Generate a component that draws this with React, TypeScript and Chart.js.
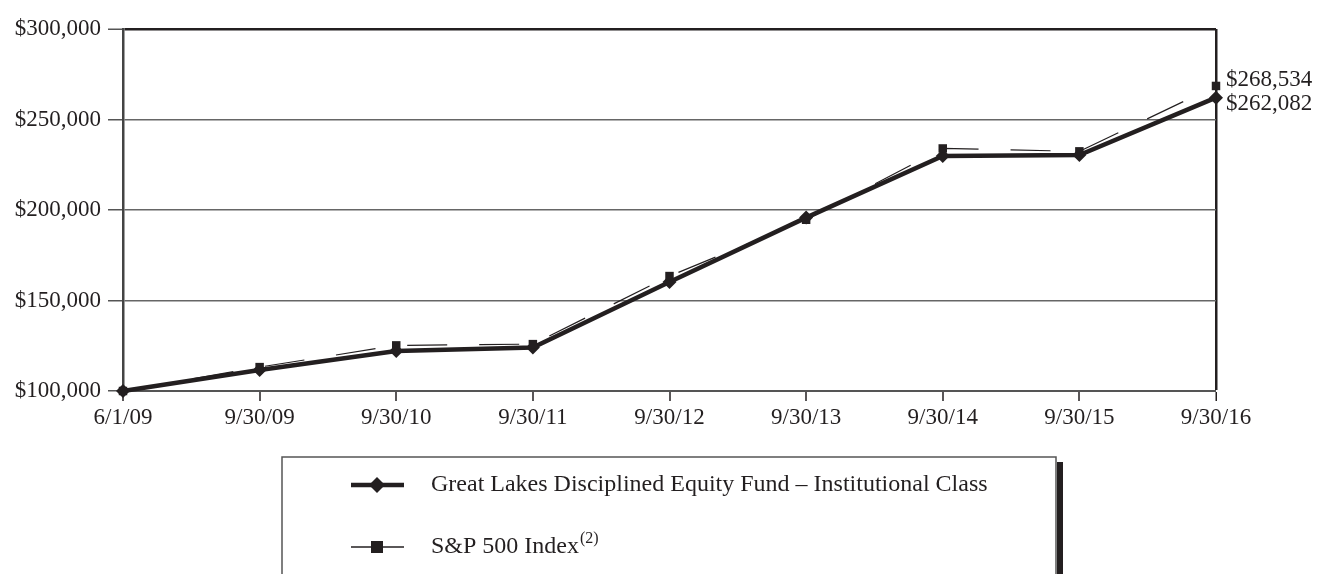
import React, { useEffect, useRef } from "react";
import { Chart, registerables } from "chart.js";

Chart.register(...registerables);

const categories = ["6/1/09", "9/30/09", "9/30/10", "9/30/11", "9/30/12", "9/30/13", "9/30/14", "9/30/15", "9/30/16"];
const fundValues = [100000, 111600, 122100, 124000, 160200, 195800, 229800, 230400, 262082];
const spValues = [100000, 113200, 125200, 125900, 163500, 194600, 234000, 232400, 268534];
const fundLabel = "Great Lakes Disciplined Equity Fund \u2013 Institutional Class";
const spLabel = "S&P 500 Index";
const spSup = "(2)";
const endLabels = ["$268,534", "$262,082"];

const INK = "#231f20";
const SERIF = "'Liberation Serif', 'Times New Roman', serif";

const fmt = (v: number) => "$" + Math.round(v).toLocaleString("en-US");

const overlayPlugin = {
  id: "overlay",
  afterDraw(chart: any) {
    const ctx = chart.ctx as CanvasRenderingContext2D;
    const y = chart.scales.y;
    const area = chart.chartArea;
    ctx.save();
    // end value labels
    ctx.fillStyle = INK;
    ctx.font = `23px ${SERIF}`;
    ctx.textAlign = "left";
    ctx.textBaseline = "middle";
    const last = categories.length - 1;
    const ySp = y.getPixelForValue(spValues[last]);
    const yFund = y.getPixelForValue(fundValues[last]);
    ctx.fillText(endLabels[0], area.right + 10, ySp - 6);
    ctx.fillText(endLabels[1], area.right + 10, yFund + 6);

    // legend box
    const bx = 282, by = 457, bw = 774;
    ctx.strokeStyle = "#555";
    ctx.lineWidth = 1.5;
    ctx.beginPath();
    ctx.moveTo(bx, 580);
    ctx.lineTo(bx, by);
    ctx.lineTo(bx + bw, by);
    ctx.lineTo(bx + bw, 580);
    ctx.stroke();
    ctx.fillStyle = INK;
    ctx.fillRect(bx + bw + 1, 462, 6, 120);

    // legend entry 1
    const lx0 = 351, lx1 = 404, mx = 377;
    ctx.strokeStyle = INK;
    ctx.lineWidth = 4.5;
    ctx.beginPath();
    ctx.moveTo(lx0, 485);
    ctx.lineTo(lx1, 485);
    ctx.stroke();
    ctx.beginPath();
    ctx.moveTo(mx, 485 - 8);
    ctx.lineTo(mx + 8, 485);
    ctx.lineTo(mx, 485 + 8);
    ctx.lineTo(mx - 8, 485);
    ctx.closePath();
    ctx.fill();
    // legend entry 2
    ctx.lineWidth = 1.5;
    ctx.beginPath();
    ctx.moveTo(lx0, 547);
    ctx.lineTo(lx1, 547);
    ctx.stroke();
    ctx.fillRect(mx - 6, 547 - 6, 12, 12);

    ctx.font = `24px ${SERIF}`;
    ctx.textBaseline = "alphabetic";
    ctx.fillText(fundLabel, 431, 491);
    ctx.fillText(spLabel, 431, 553);
    const w = ctx.measureText(spLabel).width;
    ctx.font = `16px ${SERIF}`;
    ctx.fillText(spSup, 431 + w + 1, 543);
    ctx.restore();
  },
};

export default function App() {
  const ref = useRef<HTMLCanvasElement>(null);
  useEffect(() => {
    if (!ref.current) return;
    const chart = new Chart(ref.current, {
      type: "line",
      data: {
        labels: categories,
        datasets: [
          {
            label: fundLabel,
            data: fundValues,
            borderColor: INK,
            backgroundColor: INK,
            borderWidth: 4.5,
            pointStyle: "rectRot",
            pointRadius: 7,
            pointBorderWidth: 0,
            tension: 0,
            clip: false as any,
            order: 1,
          },
          {
            label: spLabel,
            data: spValues,
            borderColor: INK,
            backgroundColor: INK,
            borderWidth: 1.2,
            borderDash: [40, 32],
            pointStyle: "rect",
            pointRadius: 6,
            pointBorderWidth: 0,
            tension: 0,
            clip: false as any,
            order: 0,
          },
        ],
      },
      options: {
        responsive: false,
        animation: false,
        events: [],
        layout: { padding: { left: 0, right: 106, top: 29, bottom: 0 } },
        plugins: { legend: { display: false }, tooltip: { enabled: false } },
        scales: {
          x: {
            type: "category",
            offset: false,
            afterFit: (s: any) => {
              s.height = 574 - 391;
            },
            ticks: { color: INK, font: { family: SERIF, size: 23 }, padding: 3, maxRotation: 0, autoSkip: false },
            grid: {
              drawOnChartArea: true,
              color: (c: any) => (c.index === categories.length - 1 ? INK : "rgba(0,0,0,0)"),
              lineWidth: (c: any) => (c.index === categories.length - 1 ? 2.5 : 0),
              tickColor: INK,
              tickWidth: 1.5,
              tickLength: 10,
            },
            border: { display: true, color: "#555", width: 2 },
          },
          y: {
            min: 100000,
            max: 300000,
            afterFit: (s: any) => {
              s.width = 123;
            },
            ticks: {
              stepSize: 50000,
              color: INK,
              font: { family: SERIF, size: 23 },
              padding: 7,
              callback: (v: any) => fmt(Number(v)),
            },
            grid: {
              color: (c: any) => (c.tick && c.tick.value === 300000 ? INK : "#666"),
              lineWidth: (c: any) => (c.tick && c.tick.value === 300000 ? 2.5 : 1.5),
              tickColor: "#555",
              tickWidth: 1.5,
              tickLength: 15,
            },
            border: { display: true, color: "#444", width: 2.5 },
          },
        },
      },
      plugins: [overlayPlugin],
    });
    return () => chart.destroy();
  }, []);
  return (
    <div style={{ position: "absolute", left: 0, top: 0, width: 1322, height: 574, background: "#fff" }}>
      <canvas ref={ref} width={1322} height={574} style={{ display: "block" }} />
    </div>
  );
}
